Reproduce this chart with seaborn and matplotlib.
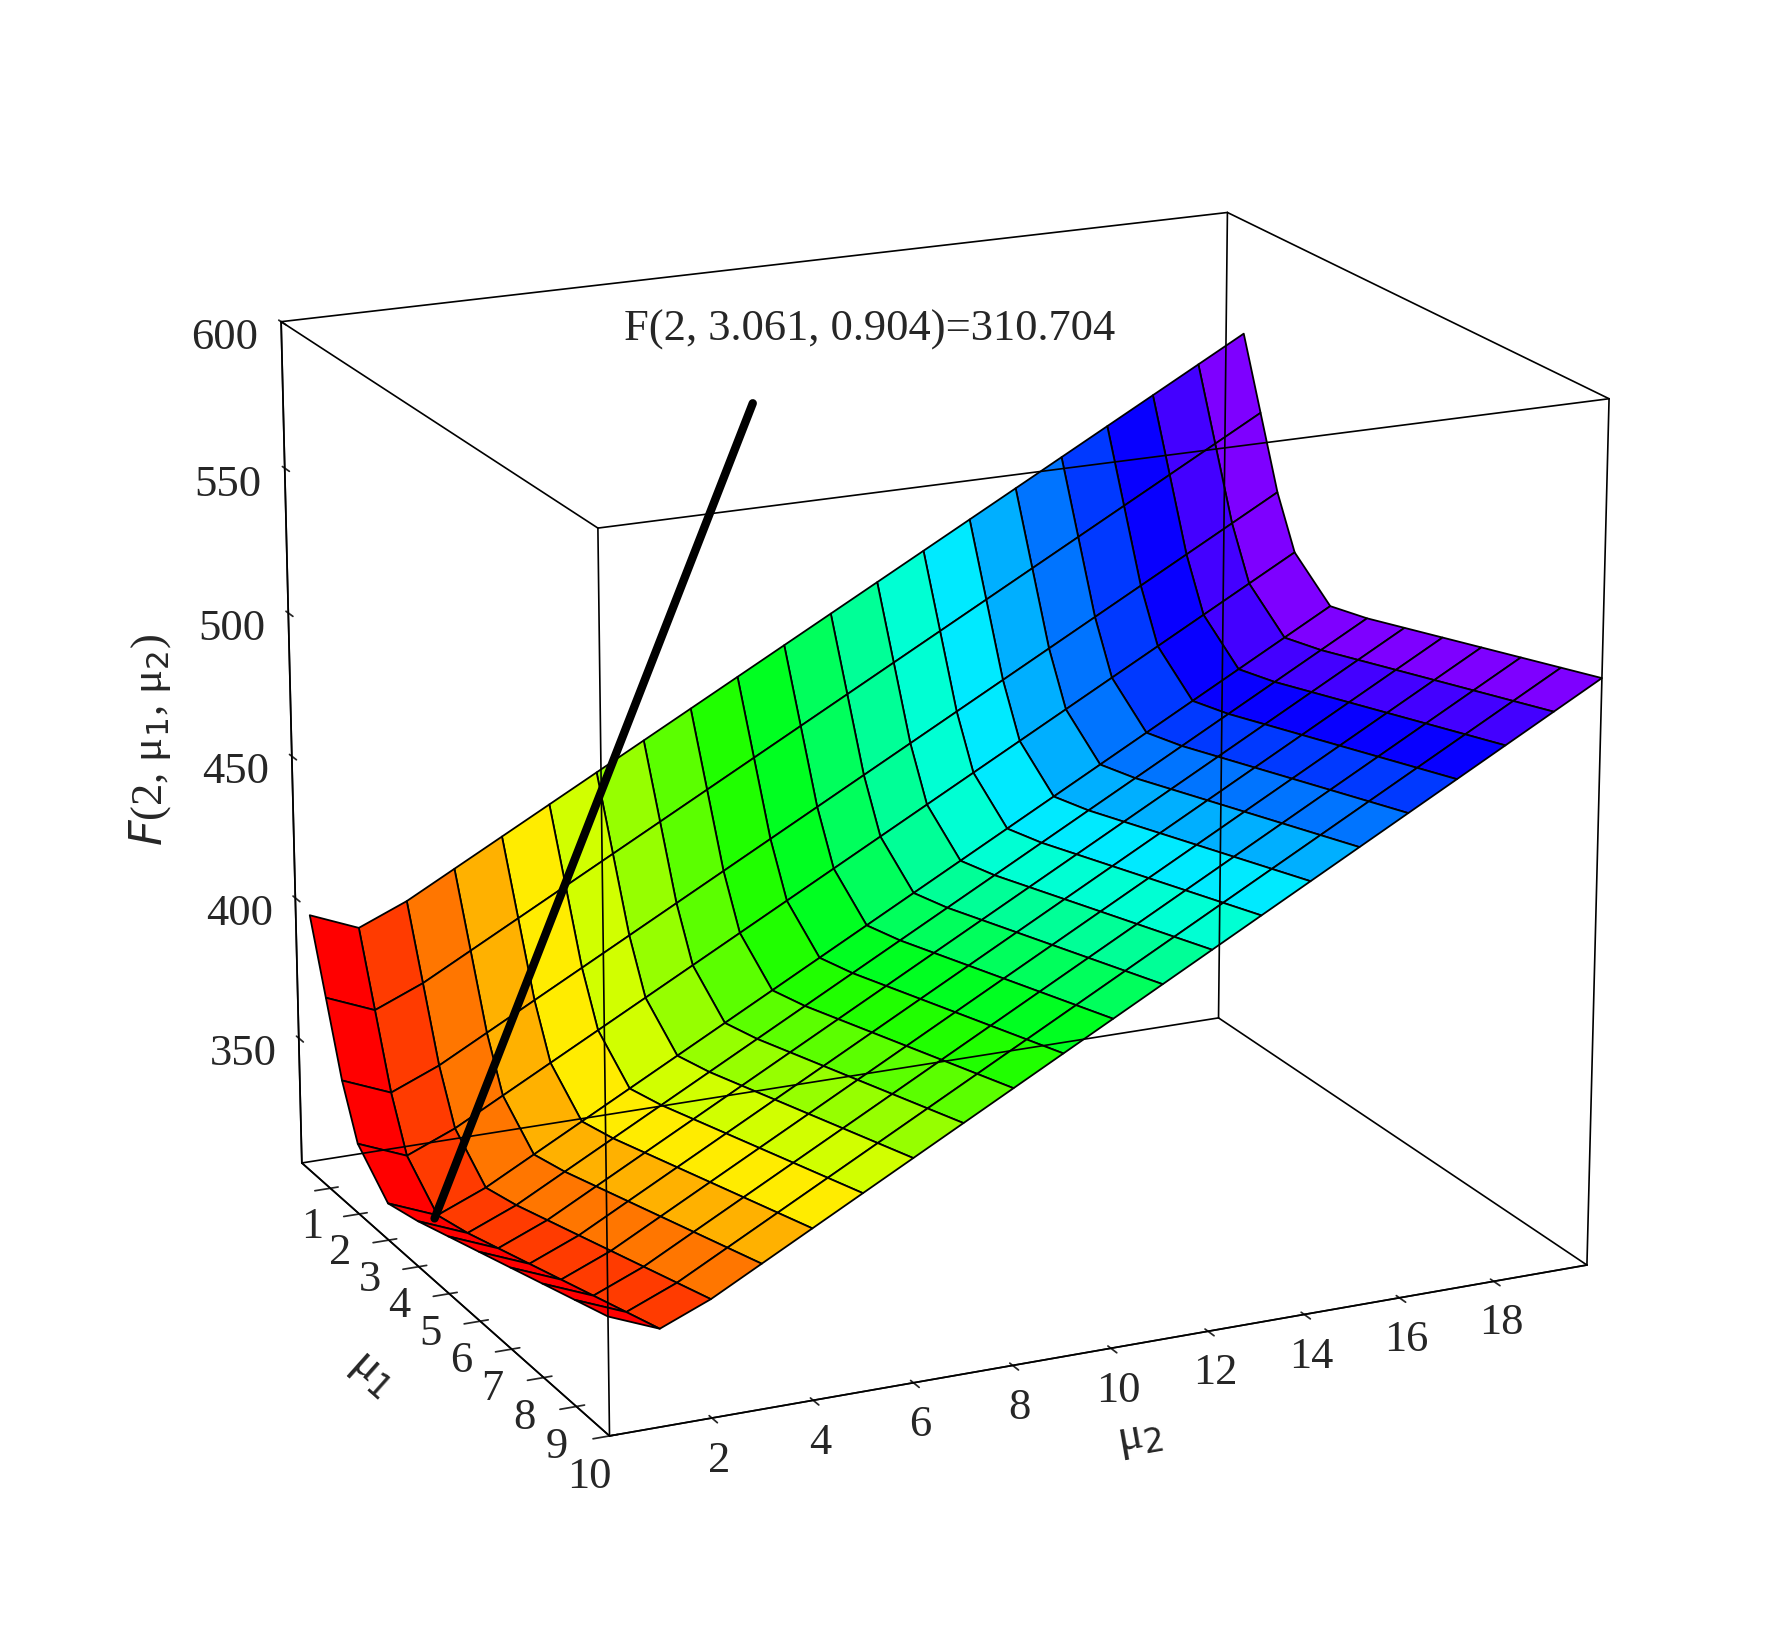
import numpy as np
import matplotlib
matplotlib.use("Agg")
import matplotlib.pyplot as plt
import seaborn as sns

sns.set_theme(style="white")
plt.rcParams['font.family'] = ['Liberation Serif', 'DejaVu Serif']

# grid: F = trough(mu2) + rise(mu1)
mu1 = [0.5, 1, 1.5, 2, 3, 4, 5, 6, 7, 8, 9, 10]
mu2 = list(range(0, 21))
trough_mu2 = [318, 311, 318, 327, 336, 345, 354, 363, 372, 381, 390,
              399, 408, 417, 426, 435, 444, 453, 462, 471, 480]
rise_mu1 = [80, 55, 30, 12, 0, 3, 7, 11, 15, 19, 23, 27]
opt = (3.061, 0.904, 310.704)
label = "F(2, 3.061, 0.904)=310.704"

X, Y = np.meshgrid(mu1, mu2, indexing="ij")
Z = np.array(rise_mu1, float)[:, None] + np.array(trough_mu2, float)[None, :]

fig = plt.figure(figsize=(17.9, 16.29), dpi=100)
ax = fig.add_subplot(111, projection="3d")
cols = plt.cm.hsv(Y / 20 * 0.8)
ax.plot_surface(X, Y, Z, facecolors=cols, edgecolor="black", linewidth=1.3,
                shade=False, rstride=1, cstride=1)
ax.plot([opt[0], 0.3], [opt[1], 9.5], [opt[2], 555], color="black", lw=6, zorder=10)
ax.text(0.0, 7.0, 580, label, fontsize=32, zorder=11)

x0, x1, y0, y1, z0, z1 = 0, 10, 0, 20, 305, 600
for xs, ys, zs in [
    ([x0, x1], [y0, y0], [z0, z0]), ([x0, x1], [y1, y1], [z0, z0]),
    ([x0, x1], [y0, y0], [z1, z1]), ([x0, x1], [y1, y1], [z1, z1]),
    ([x0, x0], [y0, y1], [z0, z0]), ([x1, x1], [y0, y1], [z0, z0]),
    ([x0, x0], [y0, y1], [z1, z1]), ([x1, x1], [y0, y1], [z1, z1]),
    ([x0, x0], [y0, y0], [z0, z1]), ([x1, x1], [y0, y0], [z0, z1]),
    ([x0, x0], [y1, y1], [z0, z1]), ([x1, x1], [y1, y1], [z0, z1])]:
    ax.plot(xs, ys, zs, color="black", lw=1.2)

ax.set_xlim(x0, x1); ax.set_ylim(y0, y1); ax.set_zlim(z0, z1)
ax.set_xticks(range(1, 11)); ax.set_yticks(range(2, 20, 2))
ax.set_zticks([350, 400, 450, 500, 550, 600])
ax.tick_params(labelsize=32)
ax.tick_params(axis='z', pad=18)
ax.zaxis._axinfo['juggled'] = (1, 2, 0)
ax.set_xlabel("μ$_1$", fontsize=34, labelpad=25)
ax.set_ylabel("μ$_2$", fontsize=34, labelpad=25)
ax.zaxis.set_rotate_label(False)
ax.set_zlabel("$F$(2, μ$_1$, μ$_2$)", fontsize=32, labelpad=45, rotation=90)
for a in (ax.xaxis, ax.yaxis, ax.zaxis):
    a.pane.fill = False
    a.pane.set_edgecolor("none")
ax.grid(False)
ax.view_init(elev=18, azim=-25)
ax.set_box_aspect((1, 1.3, 1.1))
plt.subplots_adjust(left=0.03, right=0.99, bottom=0.02, top=0.98)
fig.savefig("out.png", dpi=100)
